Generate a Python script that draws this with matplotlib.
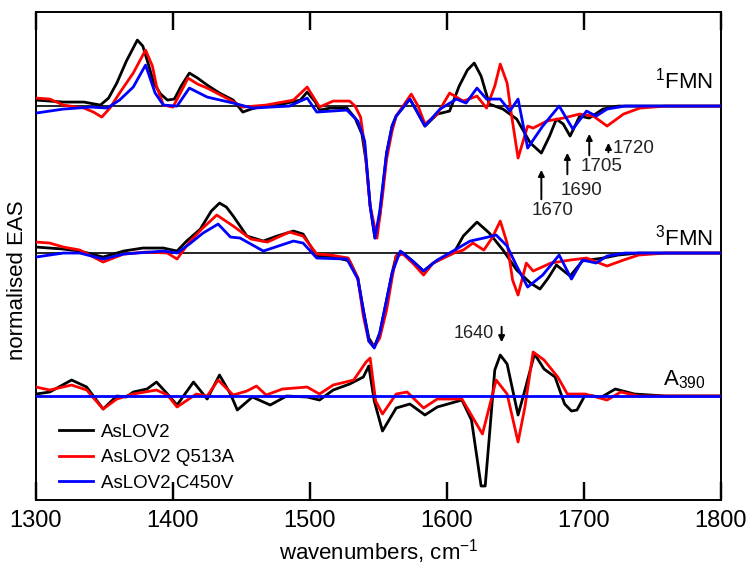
import matplotlib
matplotlib.use("Agg")
import matplotlib.pyplot as plt

plt.rcParams["font.family"] = ["Liberation Sans", "DejaVu Sans"]
plt.rcParams["mathtext.fontset"] = "custom"
plt.rcParams["mathtext.rm"] = "Liberation Sans"

# vertical offsets of the three stacked spectra (arbitrary units)
OFFSET_1FMN = 394
OFFSET_3FMN = 247
OFFSET_A390 = 104

# ---- 1FMN ----
fmn1_black_x = [1300, 1310, 1320, 1335, 1347, 1353, 1359, 1366, 1374, 1378, 1382, 1386, 1391, 1396,
                1401, 1406, 1412, 1418, 1425, 1434, 1444, 1451, 1457, 1463, 1480, 1493, 1498, 1504,
                1507, 1515, 1527, 1533, 1538, 1541, 1544, 1547.5, 1551, 1556, 1560, 1563, 1573, 1578,
                1584, 1593, 1602, 1609, 1615, 1620, 1625, 1631, 1641, 1651, 1661, 1669, 1675, 1680,
                1685, 1690, 1697, 1704, 1714, 1725, 1800]
fmn1_black_y = [6, 5, 4, 4, 1, 8, 23, 45, 66, 60, 42, 23, 12, 6,
                7, 20, 33, 28, 21, 13, 6, -6, -3, -1, 2, 6, 14, 4,
                -4, -2, -2, -12, -28, -55, -100, -132, -110, -47, -20, -10, 7, -5,
                -20, -8, -5, 20, 36, 43, 30, 2, -3, -13, -37, -47, -30, -13,
                -18, -30, -10, -12, -3, 0, 0]

fmn1_red_x = [1300, 1310, 1320, 1335, 1342, 1348, 1354, 1361, 1371, 1380, 1385, 1388, 1393, 1400,
              1405, 1411, 1418, 1425, 1439, 1451, 1468, 1488, 1498, 1503, 1507, 1517, 1529, 1533,
              1537, 1540, 1544, 1549, 1553, 1556, 1560, 1563, 1574, 1579, 1584, 1593, 1602, 1612,
              1622, 1629, 1635, 1639, 1644, 1647, 1652, 1659, 1663, 1673, 1685, 1697, 1707, 1717,
              1729, 1741, 1760, 1800]
fmn1_red_y = [8, 7, 1, -2, -6, -11, -2, 13, 33, 56, 40, 20, 1, -1,
              12, 28, 22, 18, 8, -1, 1, 6, 19, 8, -1, 5, 5, 0,
              -11, -40, -100, -132, -90, -53, -25, -10, 12, 0, -18, -8, 13, 5,
              10, -2, 20, 42, 23, -7, -52, -20, -22, -15, -12, -8, -10, -20,
              -8, -2, 0, 0]

fmn1_blue_x = [1300, 1320, 1340, 1352, 1361, 1371, 1380, 1387, 1393, 1403, 1412, 1425, 1444, 1458,
               1485, 1498, 1505, 1527, 1535, 1540, 1544, 1547.5, 1551, 1556, 1560, 1563, 1573, 1578,
               1584, 1595, 1607, 1614, 1622, 1629, 1639, 1646, 1652, 1659, 1670, 1682, 1692, 1702,
               1709, 1717, 1730, 1800]
fmn1_blue_y = [-7, -3, -1, -2, 6, 19, 41, 13, 1, 0, 18, 9, 3, -2,
               0, 8, -6, -4, -15, -35, -100, -132, -105, -47, -20, -10, 7, -5,
               -20, -3, 7, 3, 18, 7, 7, -5, 7, -42, -20, 0, -23, -5,
               -10, -3, 0, 0]

# ---- 3FMN ----
fmn3_black_x = [1300, 1320, 1332, 1349, 1364, 1378, 1393, 1403, 1410, 1420, 1428, 1434, 1439, 1444,
                1454, 1466, 1476, 1488, 1495, 1505, 1515, 1529, 1535, 1539, 1543, 1547, 1551, 1556,
                1560, 1563, 1567, 1575, 1583, 1590, 1597, 1605, 1612, 1622, 1631, 1641, 1651, 1661,
                1668, 1674, 1680, 1690, 1699, 1714, 1725, 1740, 1800]
fmn3_black_y = [6, 4, 2, -4, 2, 5, 5, 2, 12, 24, 42, 50, 46, 37,
                17, 12, 17, 22, 19, -3, -3, -8, -25, -57, -85, -94, -80, -47,
                -20, -3, 1, -8, -18, -10, -5, 0, 17, 31, 20, 3, -17, -30,
                -36, -25, -12, -23, -8, -5, -2, 0, 0]

fmn3_red_x = [1300, 1310, 1320, 1332, 1349, 1364, 1380, 1396, 1403, 1412, 1421, 1432, 1444, 1457,
              1469, 1485, 1495, 1505, 1515, 1528, 1535, 1539, 1543, 1547, 1551, 1556, 1560, 1563,
              1568, 1575, 1583, 1590, 1605, 1612, 1619, 1627, 1633, 1639, 1644, 1648, 1652, 1658,
              1663, 1676, 1690, 1702, 1717, 1729, 1740, 1760, 1800]
fmn3_red_y = [11, 10, 6, 3, -9, -1, 1, 0, -6, 11, 24, 38, 27, 14,
              11, 21, 17, -1, -2, -5, -25, -63, -88, -94, -85, -57, -25, -3,
              -1, -10, -22, -10, 0, 3, 10, 3, 15, 32, 10, -27, -42, -10,
              -18, -10, -7, -5, -13, -7, -2, 0, 0]

fmn3_blue_x = [1300, 1320, 1332, 1349, 1364, 1393, 1403, 1412, 1422, 1433, 1442, 1449, 1466, 1488,
               1495, 1505, 1527, 1535, 1539, 1543, 1547, 1551, 1556, 1560, 1566, 1575, 1583, 1593,
               1607, 1617, 1627, 1636, 1644, 1651, 1659, 1670, 1682, 1691, 1699, 1709, 1717, 1730,
               1800]
fmn3_blue_y = [-4, 0, 0, -6, -1, 2, 0, 9, 20, 29, 16, 15, 2, 12,
               10, -5, -6, -26, -57, -88, -95, -80, -47, -20, 2, -8, -18, -7,
               4, 12, 15, 18, 7, -13, -34, -22, -2, -26, -7, -10, -3, 0,
               0]

# ---- A390 ----
a390_black_x = [1300, 1310, 1326, 1337, 1349, 1359, 1366, 1371, 1381, 1388, 1396, 1403, 1415, 1425,
                1434, 1442, 1447, 1458, 1471, 1483, 1498, 1507, 1517, 1529, 1539, 1543, 1547, 1553,
                1563, 1573, 1584, 1593, 1611, 1618, 1625, 1628, 1631, 1635, 1639, 1644, 1652, 1657,
                1664, 1671, 1679, 1686, 1691, 1695, 1701, 1713, 1723, 1737, 1760, 1800]
a390_black_y = [2, 4, 16, 9, -13, 0, -1, 4, 7, 14, 2, -9, 14, -3,
                21, 2, -14, -1, -9, 0, -1, -4, 6, 12, 19, 30, -5, -35,
                -12, -8, -19, -11, -4, -24, -90, -90, -41, 26, 41, 32, -19, 6,
                42, 27, 19, -8, -15, -14, 1, -1, 7, 2, 0, 0]

a390_red_x = [1300, 1310, 1326, 1337, 1349, 1359, 1371, 1388, 1396, 1403, 1417, 1425, 1433, 1444,
              1454, 1461, 1468, 1480, 1498, 1507, 1517, 1532, 1541, 1544, 1548, 1553, 1563, 1571,
              1583, 1593, 1611, 1626, 1631, 1636, 1644, 1652, 1657, 1663, 1671, 1681, 1688, 1701,
              1717, 1727, 1740, 1800]
a390_red_y = [9, 6, 11, 6, -13, -3, 2, 6, 1, -11, 2, 0, 16, 1,
              5, 10, 1, 7, 9, 2, 11, 16, 34, 38, -5, -18, 2, 4,
              -12, -3, -3, -38, -11, 16, 2, -46, -11, 44, 36, 19, 2, 2,
              -4, 4, 0, 0]

a390_blue_x = [1300, 1800]
a390_blue_y = [0, 0]

legend_labels = ["AsLOV2", "AsLOV2 Q513A", "AsLOV2 C450V"]
colors = ["black", "#ff0000", "#0000ff"]
xtick_values = [1300, 1400, 1500, 1600, 1700, 1800]

# arrow marks: (wavenumber, tail y, tip y, text x, text y, label, ha, va)
marks_1fmn = [
    (1669, 298, 333, 1677, 298, "1670", "center", "top"),
    (1688, 323, 350, 1698, 318, "1690", "center", "top"),
    (1704, 342, 369, 1713, 342, "1705", "center", "top"),
    (1718, 345, 360, 1721, 352, "1720", "left", "center"),
]


def main():
    fig = plt.figure(figsize=(7.5, 5.7), dpi=100)
    ax = fig.add_axes([0.048, 0.1228, 0.913, 0.856])

    ax.axhline(OFFSET_1FMN, color="black", lw=1.2, zorder=1)
    ax.axhline(OFFSET_3FMN, color="black", lw=1.2, zorder=1)

    series = [
        (OFFSET_1FMN, [(fmn1_black_x, fmn1_black_y), (fmn1_red_x, fmn1_red_y), (fmn1_blue_x, fmn1_blue_y)]),
        (OFFSET_3FMN, [(fmn3_black_x, fmn3_black_y), (fmn3_red_x, fmn3_red_y), (fmn3_blue_x, fmn3_blue_y)]),
        (OFFSET_A390, [(a390_black_x, a390_black_y), (a390_red_x, a390_red_y), (a390_blue_x, a390_blue_y)]),
    ]
    for k, (off, traces) in enumerate(series):
        for i, (xs, ys) in enumerate(traces):
            lab = legend_labels[i] if k == 0 else None
            ax.plot(xs, [v + off for v in ys], color=colors[i], lw=2.0,
                    solid_joinstyle="round", label=lab, zorder=2 + i)

    # peak markers
    for wn, y0, y1, tx, ty, txt, ha, va in marks_1fmn:
        ax.annotate("", xy=(wn, y1), xytext=(wn, y0),
                    arrowprops=dict(arrowstyle="-|>", color="black", lw=1.4, mutation_scale=9))
        ax.text(tx, ty, txt, ha=ha, va=va, fontsize=13.5, color="#222222")
    ax.annotate("", xy=(1640, 155), xytext=(1640, 176),
                arrowprops=dict(arrowstyle="-|>", color="black", lw=1.4, mutation_scale=9))
    ax.text(1634, 167, "1640", ha="right", va="center", fontsize=13, color="#222222")

    ax.text(1794, 412, r"$^{1}$FMN", ha="right", va="baseline", fontsize=16)
    ax.text(1794, 255, r"$^{3}$FMN", ha="right", va="baseline", fontsize=16)
    ax.text(1789, 115, r"A$_{390}$", ha="right", va="baseline", fontsize=16)

    ax.set_xlim(1300, 1800)
    ax.set_ylim(0, 488)
    ax.set_yticks([])
    for sp in ax.spines.values():
        sp.set_linewidth(1.4)

    ax.set_xlabel(r"wavenumbers, cm$^{-1}$", fontsize=16, labelpad=4)
    ax.set_ylabel("normalised EAS", fontsize=16)
    ax.yaxis.set_label_coords(-0.012, 0.45)

    ax.legend(loc="lower left", bbox_to_anchor=(0.015, -0.01), frameon=False,
              fontsize=13.5, handlelength=1.8, handletextpad=0.4,
              labelspacing=0.45, borderaxespad=0.3)

    # inward ticks on top and bottom
    ax.set_xticks(xtick_values)
    ax.tick_params(axis="x", which="major", direction="in", top=True, bottom=True,
                   length=13, width=1.6, labelsize=17, pad=7, color="black")
    # same tick marks again as plain segments so they always show above the traces
    xt = ax.get_xaxis_transform()
    ax.vlines(xtick_values, 0, 0.037, transform=xt, color="black", lw=1.6, zorder=7, clip_on=False)
    ax.vlines(xtick_values, 0.963, 1, transform=xt, color="black", lw=1.6, zorder=7, clip_on=False)

    fig.savefig("out.png", dpi=100)


if __name__ == "__main__":
    main()
